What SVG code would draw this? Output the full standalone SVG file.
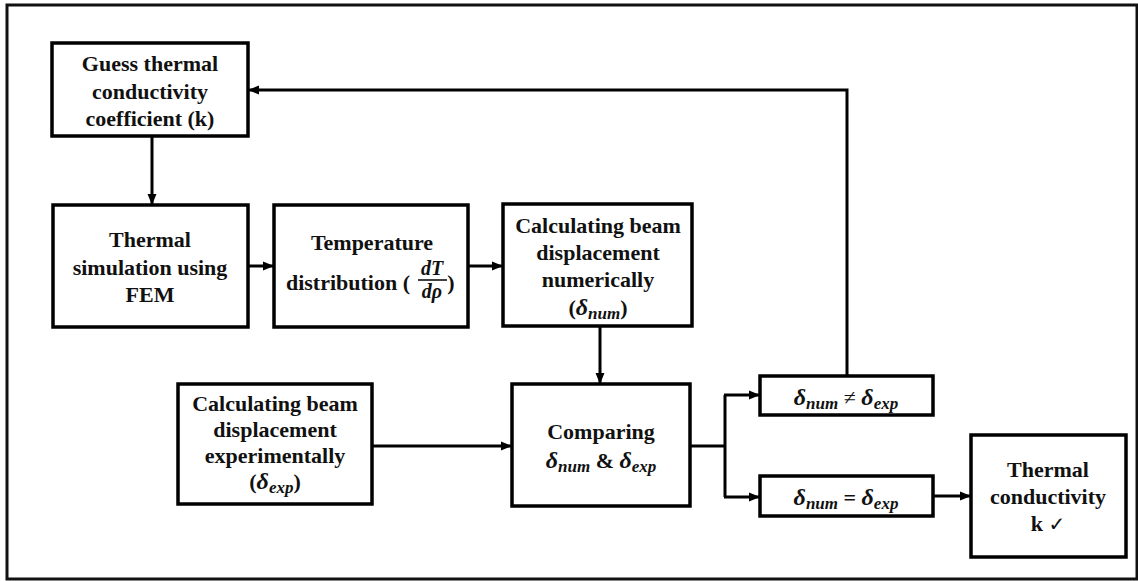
<svg xmlns="http://www.w3.org/2000/svg" width="1138" height="581" viewBox="0 0 1138 581">
<style>
.box{fill:#fff;stroke:#000;stroke-width:3.5}
.t{font-family:"Liberation Serif","Times New Roman",serif;font-weight:bold;font-size:22px;fill:#111;text-anchor:middle}
.m{font-family:"Liberation Serif","Times New Roman",serif;font-weight:bold;font-style:italic;fill:#111}
.c{fill:none;stroke:#000;stroke-width:3}
</style>
<defs>
<marker id="ah" markerUnits="userSpaceOnUse" markerWidth="11" markerHeight="10" refX="10" refY="5" orient="auto">
<path d="M0,0.5 L11,5 L0,9.5 z" fill="#000"/>
</marker>
</defs>
<rect x="0" y="0" width="1138" height="581" fill="#fff"/>
<rect x="7" y="5" width="1130" height="574" fill="none" stroke="#111" stroke-width="3"/>

<g id="connectors">
<path class="c" d="M152,136 V204" marker-end="url(#ah)"/>
<path class="c" d="M248,266 H273" marker-end="url(#ah)"/>
<path class="c" d="M468,266 H502" marker-end="url(#ah)"/>
<path class="c" d="M600,326 V383" marker-end="url(#ah)"/>
<path class="c" d="M372,446 H511" marker-end="url(#ah)"/>
<path class="c" d="M690,446 H725"/>
<path class="c" d="M725,395 V497"/>
<path class="c" d="M724,395 H759" marker-end="url(#ah)"/>
<path class="c" d="M724,497 H759" marker-end="url(#ah)"/>
<path class="c" d="M933,496 H970" marker-end="url(#ah)"/>
<path class="c" d="M847,376 V90 H249" marker-end="url(#ah)"/>
</g>

<g id="guess">
<rect class="box" x="52" y="43" width="196" height="93"/>
<text class="t" x="150" y="71">Guess thermal</text>
<text class="t" x="150" y="99">conductivity</text>
<text class="t" x="150" y="126">coefficient (k)</text>
</g>

<g id="thermal-sim">
<rect class="box" x="53" y="205" width="195" height="122"/>
<text class="t" x="150" y="247">Thermal</text>
<text class="t" x="150" y="275">simulation using</text>
<text class="t" x="150" y="302">FEM</text>
</g>

<g id="temperature">
<rect class="box" x="274" y="205" width="194" height="122"/>
<text class="t" x="372" y="250">Temperature</text>
<text class="t" x="348" y="290">distribution (</text>
<text class="m" x="432" y="275" font-size="20" text-anchor="middle">dT</text>
<line x1="418" y1="280" x2="447" y2="280" stroke="#111" stroke-width="1.6"/>
<text class="m" x="432" y="298" font-size="20" text-anchor="middle">dρ</text>
<text class="t" x="451" y="290">)</text>
</g>

<g id="calc-num">
<rect class="box" x="503" y="204" width="189" height="122"/>
<text class="t" x="598" y="233">Calculating beam</text>
<text class="t" x="598" y="260">displacement</text>
<text class="t" x="598" y="287">numerically</text>
<text class="t" x="598" y="315">(<tspan class="m" font-size="24">δ</tspan><tspan class="m" font-size="17" dy="4">num</tspan><tspan dy="-4">)</tspan></text>
</g>

<g id="calc-exp">
<rect class="box" x="178" y="384" width="194" height="120"/>
<text class="t" x="275" y="411">Calculating beam</text>
<text class="t" x="275" y="437">displacement</text>
<text class="t" x="275" y="463">experimentally</text>
<text class="t" x="275" y="489">(<tspan class="m" font-size="24">δ</tspan><tspan class="m" font-size="17" dy="4">exp</tspan><tspan dy="-4">)</tspan></text>
</g>

<g id="comparing">
<rect class="box" x="512" y="384" width="178" height="122"/>
<text class="t" x="601" y="439">Comparing</text>
<text class="t" x="601" y="468"><tspan class="m" font-size="24">δ</tspan><tspan class="m" font-size="17" dy="4">num</tspan><tspan dy="-4"> &amp; </tspan><tspan class="m" font-size="24">δ</tspan><tspan class="m" font-size="17" dy="4">exp</tspan></text>
</g>

<g id="not-equal">
<rect class="box" x="760" y="376" width="173" height="39"/>
<text class="t" x="846" y="405"><tspan class="m" font-size="24">δ</tspan><tspan class="m" font-size="17" dy="4">num</tspan><tspan dy="-4" font-weight="normal"> ≠ </tspan><tspan class="m" font-size="24">δ</tspan><tspan class="m" font-size="17" dy="4">exp</tspan></text>
</g>

<g id="equal">
<rect class="box" x="760" y="476" width="173" height="40"/>
<text class="t" x="846" y="505"><tspan class="m" font-size="24">δ</tspan><tspan class="m" font-size="17" dy="4">num</tspan><tspan dy="-4"> = </tspan><tspan class="m" font-size="24">δ</tspan><tspan class="m" font-size="17" dy="4">exp</tspan></text>
</g>

<g id="thermal-conductivity">
<rect class="box" x="971" y="435" width="155" height="122"/>
<text class="t" x="1048" y="477">Thermal</text>
<text class="t" x="1048" y="504">conductivity</text>
<text class="t" x="1048" y="531">k <tspan font-weight="normal" font-family="DejaVu Sans, sans-serif" font-size="20">✓</tspan></text>
</g>
</svg>
